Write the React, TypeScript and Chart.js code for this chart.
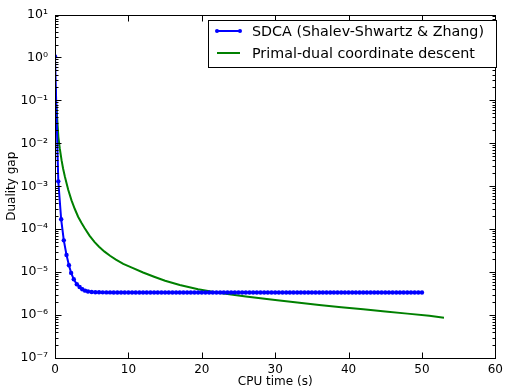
import React, { useEffect, useRef } from 'react';
import { Chart, registerables } from 'chart.js';

Chart.register(...registerables);

const seriesNames = ['SDCA (Shalev-Shwartz & Zhang)', 'Primal-dual coordinate descent'];

const sdcaTime = [
  0, 0.45, 0.84, 1.2, 1.57, 1.9, 2.2, 2.56, 2.97, 3.35, 3.72, 4.1, 4.5, 5.0,
  5.5, 6.0, 6.5, 7.0, 7.5, 8.0, 8.5, 9.0, 9.5, 10.0, 10.5, 11.0, 11.5, 12.0,
  12.5, 13.0, 13.5, 14.0, 14.5, 15.0, 15.5, 16.0, 16.5, 17.0, 17.5, 18.0, 18.5,
  19.0, 19.5, 20.0, 20.5, 21.0, 21.5, 22.0, 22.5, 23.0, 23.5, 24.0, 24.5, 25.0,
  25.5, 26.0, 26.5, 27.0, 27.5, 28.0, 28.5, 29.0, 29.5, 30.0, 30.5, 31.0, 31.5,
  32.0, 32.5, 33.0, 33.5, 34.0, 34.5, 35.0, 35.5, 36.0, 36.5, 37.0, 37.5, 38.0,
  38.5, 39.0, 39.5, 40.0, 40.5, 41.0, 41.5, 42.0, 42.5, 43.0, 43.5, 44.0, 44.5,
  45.0, 45.5, 46.0, 46.5, 47.0, 47.5, 48.0, 48.5, 49.0, 49.5, 50.0,
];
const sdcaGap = [
  1.05, 1.3e-3, 1.7e-4, 5.5e-5, 2.5e-5, 1.45e-5, 9.6e-6, 6.8e-6, 5.2e-6, 4.5e-6, 4.0e-6, 3.7e-6, 3.55e-6, 3.45e-6,
  3.41e-6, 3.39e-6, 3.38e-6, 3.37e-6, 3.37e-6, 3.36e-6, 3.36e-6, 3.36e-6, 3.36e-6, 3.36e-6, 3.36e-6, 3.36e-6, 3.36e-6, 3.36e-6,
  3.36e-6, 3.36e-6, 3.36e-6, 3.36e-6, 3.36e-6, 3.36e-6, 3.36e-6, 3.36e-6, 3.36e-6, 3.36e-6, 3.36e-6, 3.36e-6, 3.36e-6,
  3.36e-6, 3.36e-6, 3.36e-6, 3.36e-6, 3.36e-6, 3.36e-6, 3.36e-6, 3.36e-6, 3.36e-6, 3.36e-6, 3.36e-6, 3.36e-6, 3.36e-6,
  3.36e-6, 3.36e-6, 3.36e-6, 3.36e-6, 3.36e-6, 3.36e-6, 3.36e-6, 3.36e-6, 3.36e-6, 3.36e-6, 3.36e-6, 3.36e-6, 3.36e-6,
  3.36e-6, 3.36e-6, 3.36e-6, 3.36e-6, 3.36e-6, 3.36e-6, 3.36e-6, 3.36e-6, 3.36e-6, 3.36e-6, 3.36e-6, 3.36e-6, 3.36e-6,
  3.36e-6, 3.36e-6, 3.36e-6, 3.36e-6, 3.36e-6, 3.36e-6, 3.36e-6, 3.36e-6, 3.36e-6, 3.36e-6, 3.36e-6, 3.36e-6, 3.36e-6,
  3.36e-6, 3.36e-6, 3.36e-6, 3.36e-6, 3.36e-6, 3.36e-6, 3.36e-6, 3.36e-6, 3.36e-6, 3.36e-6, 3.36e-6,
];

const pdTime = [
  0, 0.1, 0.23, 0.35, 0.46, 0.65, 0.9, 1.1, 1.35, 1.8, 2.25, 2.7, 3.15, 3.6, 4.05,
  4.7, 5.4, 6.0, 6.75, 7.5, 8.3, 9.3, 10.4, 12.0, 13.5, 15.0, 17.0, 19.5, 22.0,
  24.0, 26.0, 28.0, 30.0, 33.0, 36.0, 39.0, 42.0, 45.0, 48.0, 51.0, 53.0,
];
const pdGap = [
  0.2, 0.11, 0.059, 0.0275, 0.014, 7.6e-3, 4.0e-3, 2.6e-3, 1.66e-3, 8.3e-4, 4.7e-4, 2.95e-4, 1.95e-4, 1.41e-4, 1.05e-4,
  7.1e-5, 5.0e-5, 3.9e-5, 3.0e-5, 2.4e-5, 1.95e-5, 1.55e-5, 1.29e-5, 9.8e-6, 7.8e-6, 6.3e-6, 5.0e-6, 4.0e-6, 3.35e-6,
  3.0e-6, 2.7e-6, 2.45e-6, 2.24e-6, 1.95e-6, 1.72e-6, 1.52e-6, 1.36e-6, 1.21e-6, 1.08e-6, 9.6e-7, 8.7e-7,
];

const xTickValues = [0, 10, 20, 30, 40, 50, 60];
const yTickValues = [1e-7, 1e-6, 1e-5, 1e-4, 1e-3, 1e-2, 1e-1, 1e0, 1e1];
const yTickLabels = ['10⁻⁷', '10⁻⁶', '10⁻⁵', '10⁻⁴', '10⁻³', '10⁻²', '10⁻¹', '10⁰', '10¹'];

const FONT = '"DejaVu Sans", Verdana, sans-serif';
const BLUE = '#0000ff';
const GREEN = '#008000';

const framePlugin = {
  id: 'frameTicksLegend',
  afterDatasetsDraw(chart: any) {
    const { ctx, chartArea: a, scales } = chart;
    const xs = scales.x;
    const ys = scales.y;
    ctx.save();
    ctx.strokeStyle = '#000';
    ctx.lineWidth = 1;
    const L = Math.round(a.left) + 0.5;
    const R = Math.round(a.right) + 0.5;
    const T = Math.round(a.top) + 0.5;
    const B = Math.round(a.bottom) + 0.5;
    ctx.strokeRect(L, T, R - L, B - T);
    ctx.beginPath();
    for (const v of xTickValues) {
      const px = Math.round(xs.getPixelForValue(v)) + 0.5;
      ctx.moveTo(px, B);
      ctx.lineTo(px, B - 6);
      ctx.moveTo(px, T);
      ctx.lineTo(px, T + 6);
    }
    for (let i = 0; i < yTickValues.length; i++) {
      const base = yTickValues[i];
      const py = Math.round(ys.getPixelForValue(base)) + 0.5;
      ctx.moveTo(L, py);
      ctx.lineTo(L + 6, py);
      ctx.moveTo(R, py);
      ctx.lineTo(R - 6, py);
      if (i < yTickValues.length - 1) {
        for (let m = 2; m <= 9; m++) {
          const pm = Math.round(ys.getPixelForValue(base * m)) + 0.5;
          ctx.moveTo(L, pm);
          ctx.lineTo(L + 3, pm);
          ctx.moveTo(R, pm);
          ctx.lineTo(R - 3, pm);
        }
      }
    }
    ctx.stroke();

    // legend
    const bx = 208.5, by = 20.5, bw = 288, bh = 47;
    ctx.fillStyle = '#fff';
    ctx.fillRect(bx, by, bw, bh);
    ctx.strokeRect(bx, by, bw, bh);
    const rows = [31, 53];
    const colors = [BLUE, GREEN];
    ctx.font = `14.3px ${FONT}`;
    ctx.textBaseline = 'middle';
    ctx.textAlign = 'left';
    for (let i = 0; i < 2; i++) {
      ctx.strokeStyle = colors[i];
      ctx.lineWidth = 2;
      ctx.beginPath();
      ctx.moveTo(217, rows[i]);
      ctx.lineTo(240, rows[i]);
      ctx.stroke();
      if (i === 0) {
        ctx.fillStyle = BLUE;
        for (const px of [217, 240]) {
          ctx.beginPath();
          ctx.arc(px, rows[i], 2, 0, Math.PI * 2);
          ctx.fill();
        }
      }
      ctx.fillStyle = '#000';
      ctx.fillText(seriesNames[i], 252, rows[i] + 1);
    }
    ctx.restore();
  },
};

export default function App() {
  const ref = useRef<HTMLCanvasElement | null>(null);
  useEffect(() => {
    if (!ref.current) return;
    Chart.defaults.font.family = FONT;
    Chart.defaults.color = '#000';
    const chart = new Chart(ref.current, {
      type: 'line',
      data: {
        datasets: [
          {
            label: seriesNames[0],
            data: sdcaTime.map((t, i) => ({ x: t, y: sdcaGap[i] })),
            borderColor: BLUE,
            backgroundColor: BLUE,
            borderWidth: 2,
            pointRadius: 2.2,
            pointBorderWidth: 0,
            pointBackgroundColor: BLUE,
            tension: 0,
          },
          {
            label: seriesNames[1],
            data: pdTime.map((t, i) => ({ x: t, y: pdGap[i] })),
            borderColor: GREEN,
            backgroundColor: GREEN,
            borderWidth: 2,
            pointRadius: 0,
            tension: 0,
          },
        ],
      },
      options: {
        animation: false,
        responsive: false,
        maintainAspectRatio: false,
        layout: { padding: { top: 14, right: 8, left: 0, bottom: 0 } },
        plugins: { legend: { display: false }, tooltip: { enabled: false } },
        scales: {
          x: {
            type: 'linear',
            min: 0,
            max: 60,
            grid: { display: false, drawTicks: false },
            border: { display: false },
            ticks: { stepSize: 10, padding: 5, font: { size: 12, family: FONT }, color: '#000', maxRotation: 0 },
            title: { display: true, text: 'CPU time (s)', font: { size: 12, family: FONT }, color: '#000', padding: { top: 0, bottom: 0 } },
            afterFit: (s: any) => { s.height = 31; },
          },
          y: {
            type: 'logarithmic',
            min: 1e-7,
            max: 10,
            grid: { display: false, drawTicks: false },
            border: { display: false },
            afterBuildTicks: (s: any) => { s.ticks = yTickValues.map((v) => ({ value: v })); },
            ticks: {
              padding: 7,
              font: { size: 12.5, family: FONT },
              color: '#000',
              callback: (v: any) => {
                const i = yTickValues.findIndex((t) => Math.abs(Math.log10(t) - Math.log10(v)) < 1e-6);
                return i >= 0 ? yTickLabels[i] : '';
              },
            },
            title: { display: true, text: 'Duality gap', font: { size: 12, family: FONT }, color: '#000', padding: { top: 5, bottom: 0 } },
            afterFit: (s: any) => { s.width = 55; },
          },
        },
      },
      plugins: [framePlugin],
    });
    return () => chart.destroy();
  }, []);
  return (
    <div style={{ position: 'fixed', left: 0, top: 0, width: 508, height: 389, background: '#fff' }}>
      <canvas ref={ref} width={508} height={389} style={{ display: 'block', width: 508, height: 389 }} />
    </div>
  );
}
